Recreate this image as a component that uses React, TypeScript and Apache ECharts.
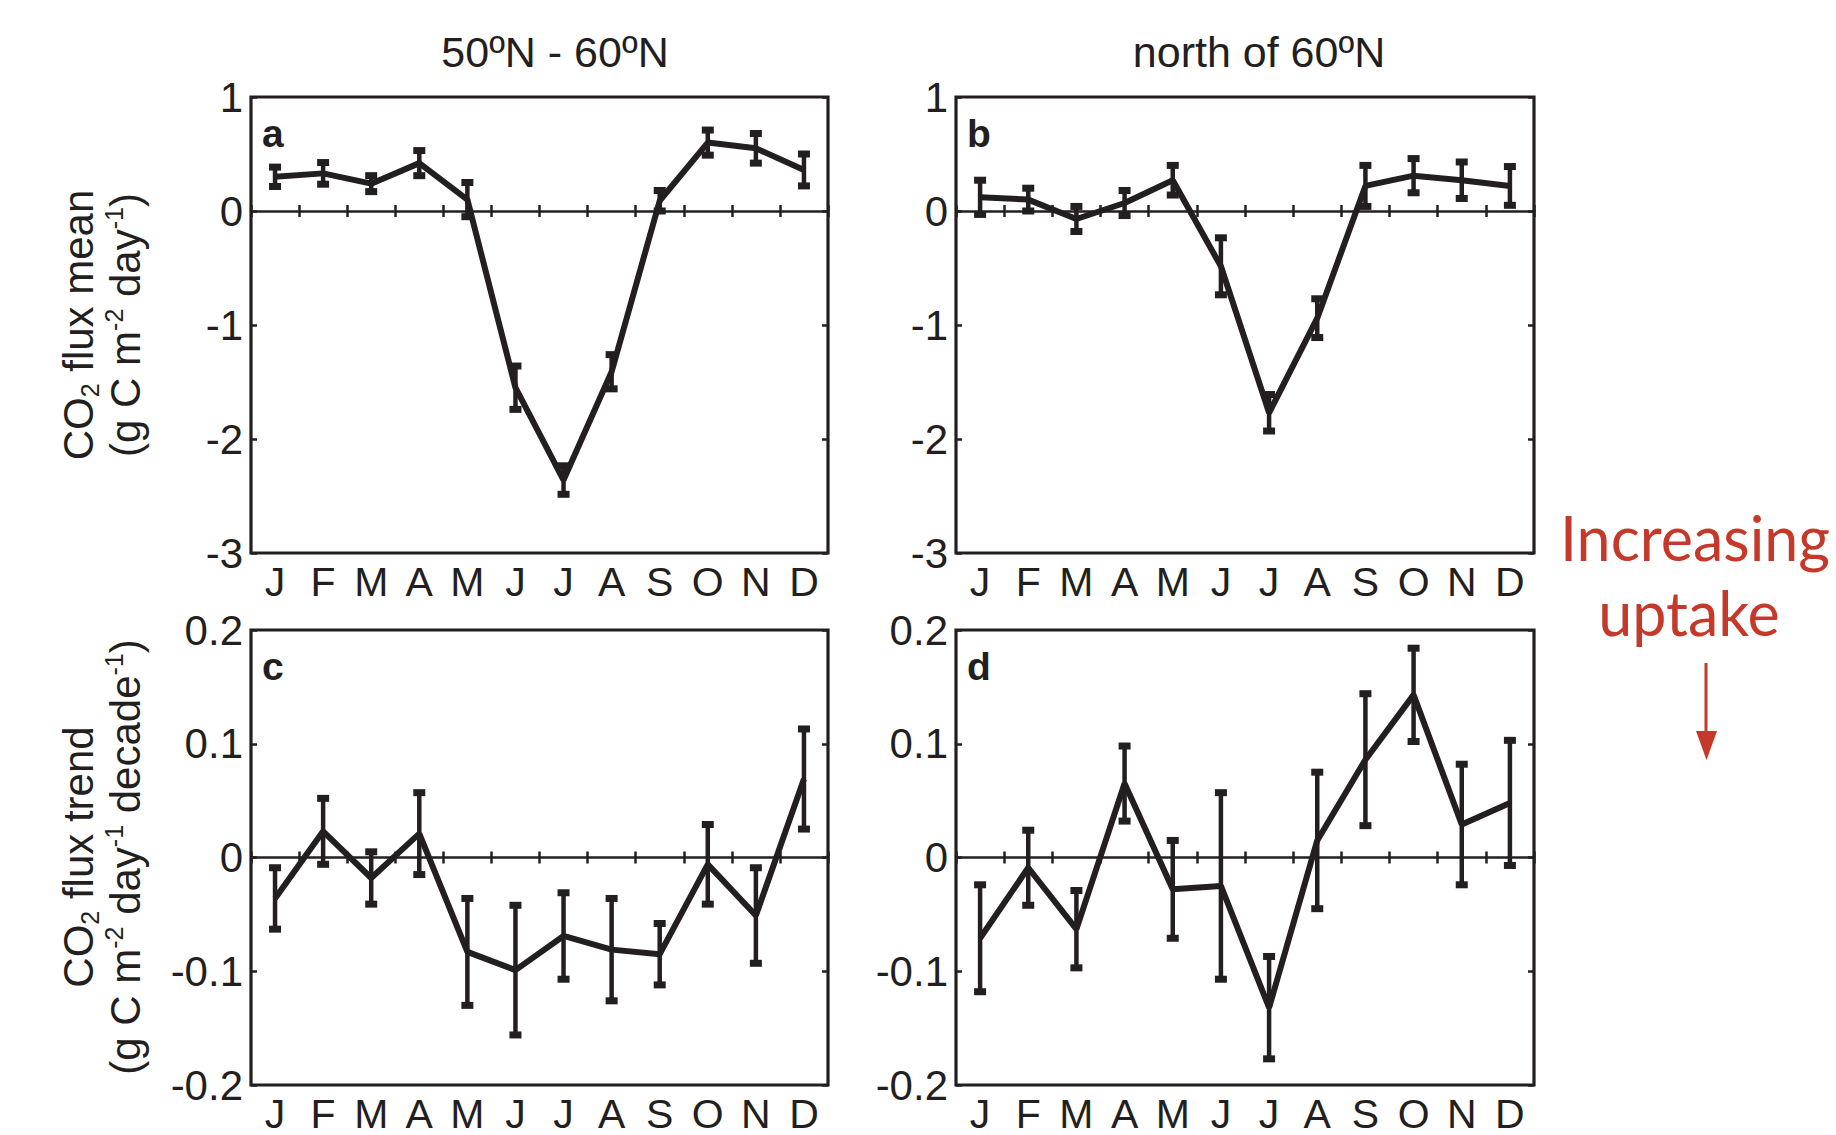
import React, { useEffect, useRef } from "react";
import * as echarts from "echarts";

const months = ["J", "F", "M", "A", "M", "J", "J", "A", "S", "O", "N", "D"];

// Panel a: 50ºN - 60ºN, CO2 flux mean
const meanA = [0.30, 0.33, 0.24, 0.42, 0.10, -1.55, -2.36, -1.41, 0.09, 0.60, 0.55, 0.36];
const errA = [0.085, 0.095, 0.07, 0.11, 0.15, 0.19, 0.125, 0.15, 0.09, 0.11, 0.13, 0.14];
// Panel b: north of 60ºN, CO2 flux mean
const meanB = [0.12, 0.10, -0.07, 0.07, 0.27, -0.485, -1.77, -0.94, 0.22, 0.31, 0.27, 0.22];
const errB = [0.15, 0.10, 0.11, 0.11, 0.13, 0.25, 0.16, 0.17, 0.18, 0.15, 0.16, 0.17];
// Panel c: 50ºN - 60ºN, CO2 flux trend
const meanC = [-0.036, 0.023, -0.018, 0.021, -0.083, -0.099, -0.069, -0.081, -0.085, -0.006, -0.051, 0.069];
const errC = [0.027, 0.029, 0.023, 0.036, 0.047, 0.057, 0.038, 0.045, 0.027, 0.035, 0.042, 0.044];
// Panel d: north of 60ºN, CO2 flux trend
const meanD = [-0.071, -0.009, -0.063, 0.065, -0.028, -0.025, -0.132, 0.015, 0.086, 0.143, 0.029, 0.048];
const errD = [0.047, 0.033, 0.034, 0.033, 0.043, 0.082, 0.045, 0.060, 0.058, 0.041, 0.053, 0.055];

const colTitles = ["50ºN - 60ºN", "north of 60ºN"];
const panelLetters = ["a", "b", "c", "d"];
const topRange = { min: -3, max: 1, interval: 1 };
const bottomRange = { min: -0.2, max: 0.2, interval: 0.1 };

const INK = "#231f20";
const RED = "#c4392a";
const FONT = "'Liberation Sans', Arial, Helvetica, sans-serif";

const grids = [
  { left: 251, top: 97, width: 577, height: 456 },
  { left: 956, top: 97, width: 578, height: 456 },
  { left: 251, top: 630, width: 577, height: 455 },
  { left: 956, top: 630, width: 578, height: 455 },
];

function buildOption() {
  const panels = [
    { mean: meanA, err: errA, range: topRange },
    { mean: meanB, err: errB, range: topRange },
    { mean: meanC, err: errC, range: bottomRange },
    { mean: meanD, err: errD, range: bottomRange },
  ];

  const grid: any[] = [];
  const xAxis: any[] = [];
  const yAxis: any[] = [];
  const series: any[] = [];
  const tick = { show: true, inside: true, length: 6, lineStyle: { color: INK, width: 2.5 } };

  panels.forEach((p, i) => {
    grid.push({
      ...grids[i],
      show: true,
      borderColor: INK,
      borderWidth: 3.2,
      backgroundColor: "transparent",
      containLabel: false,
    });
    xAxis.push({
      type: "category",
      gridIndex: i,
      data: months,
      position: "bottom",
      boundaryGap: true,
      axisLine: { show: false },
      axisTick: tick,
      axisLabel: { show: true, color: INK, fontSize: 41, fontFamily: FONT, margin: 8, interval: 0 },
      splitLine: { show: false },
    });
    xAxis.push({
      type: "category",
      gridIndex: i,
      data: months,
      position: "top",
      boundaryGap: true,
      axisLine: { show: false },
      axisTick: tick,
      axisLabel: { show: false },
      splitLine: { show: false },
    });
    yAxis.push({
      type: "value",
      gridIndex: i,
      position: "left",
      min: p.range.min,
      max: p.range.max,
      interval: p.range.interval,
      axisLine: { show: false },
      axisTick: tick,
      axisLabel: { show: true, color: INK, fontSize: 42, fontFamily: FONT, margin: 8 },
      splitLine: { show: false },
    });
    yAxis.push({
      type: "value",
      gridIndex: i,
      position: "right",
      min: p.range.min,
      max: p.range.max,
      interval: p.range.interval,
      axisLine: { show: false },
      axisTick: tick,
      axisLabel: { show: false },
      splitLine: { show: false },
    });

    series.push({
      type: "line",
      xAxisIndex: 2 * i,
      yAxisIndex: 2 * i,
      data: p.mean,
      symbol: "none",
      lineStyle: { color: INK, width: 6 },
      z: 3,
      markLine: {
        silent: true,
        symbol: ["none", "none"],
        label: { show: false },
        lineStyle: { color: INK, width: 2.5, type: "solid" },
        data: [{ yAxis: 0 }],
      },
    });
    series.push({
      type: "custom",
      xAxisIndex: 2 * i,
      yAxisIndex: 2 * i,
      data: p.mean.map((m, k) => [k, m, p.err[k]]),
      encode: { x: 0, y: 1 },
      z: 4,
      renderItem: (params: any, api: any) => {
        const x = api.value(0);
        const m = api.value(1);
        const e = api.value(2);
        const top = api.coord([x, m + e]);
        const bot = api.coord([x, m - e]);
        const cw = 12;
        const ch = 7;
        return {
          type: "group",
          children: [
            {
              type: "line",
              shape: { x1: top[0], y1: top[1], x2: bot[0], y2: bot[1] },
              style: { stroke: INK, lineWidth: 4.5 },
            },
            {
              type: "rect",
              shape: { x: top[0] - cw / 2, y: top[1] - ch / 2, width: cw, height: ch },
              style: { fill: INK },
            },
            {
              type: "rect",
              shape: { x: bot[0] - cw / 2, y: bot[1] - ch / 2, width: cw, height: ch },
              style: { fill: INK },
            },
          ],
        };
      },
    });
  });

  const rich = {
    n: { fontSize: 42, fontFamily: FONT, color: INK, lineHeight: 48 },
    sup: { fontSize: 25, fontFamily: FONT, color: INK, lineHeight: 25, verticalAlign: "top" },
    sub: { fontSize: 25, fontFamily: FONT, color: INK, lineHeight: 25, verticalAlign: "bottom" },
  };

  const yName = (x: number, y: number, text: string) => ({
    type: "text",
    x,
    y,
    rotation: Math.PI / 2,
    style: { text, rich, align: "center", verticalAlign: "middle", fill: INK },
  });

  const graphic: any[] = [
    {
      type: "text",
      x: 555,
      y: 52,
      style: { text: colTitles[0], font: `43px ${FONT}`, fill: INK, align: "center", verticalAlign: "middle" },
    },
    {
      type: "text",
      x: 1259,
      y: 52,
      style: { text: colTitles[1], font: `43px ${FONT}`, fill: INK, align: "center", verticalAlign: "middle" },
    },
    yName(78, 325, "{n|CO}{sub|2}{n| flux mean}"),
    yName(125, 325, "{n|(g C m}{sup|-2}{n| day}{sup|-1}{n|)}"),
    yName(78, 857, "{n|CO}{sub|2}{n| flux trend}"),
    yName(125, 857, "{n|(g C m}{sup|-2}{n| day}{sup|-1}{n| decade}{sup|-1}{n|)}"),
    {
      type: "text",
      x: 1695,
      y: 537,
      style: { text: "Increasing", font: `61px Lato, 'Open Sans', sans-serif`, fill: RED, align: "center", verticalAlign: "middle" },
    },
    {
      type: "text",
      x: 1689,
      y: 612,
      style: { text: "uptake", font: `61px Lato, 'Open Sans', sans-serif`, fill: RED, align: "center", verticalAlign: "middle" },
    },
    {
      type: "line",
      shape: { x1: 1706, y1: 663, x2: 1706, y2: 740 },
      style: { stroke: RED, lineWidth: 3 },
    },
    {
      type: "polygon",
      shape: { points: [[1696, 731], [1717, 731], [1706.5, 760]] },
      style: { fill: RED },
    },
  ];

  grids.forEach((g, i) => {
    graphic.push({
      type: "text",
      x: g.left + 11,
      y: g.top + 36,
      style: { text: panelLetters[i], font: `bold 39px ${FONT}`, fill: INK, align: "left", verticalAlign: "middle" },
      z: 10,
    });
  });

  return {
    animation: false,
    backgroundColor: "#ffffff",
    grid,
    xAxis,
    yAxis,
    series,
    graphic,
  };
}

export default function App() {
  const ref = useRef<HTMLDivElement>(null);
  useEffect(() => {
    if (!ref.current) return;
    const chart = echarts.init(ref.current, undefined, { renderer: "svg" });
    chart.setOption(buildOption() as any);
    return () => chart.dispose();
  }, []);
  return (
    <div
      ref={ref}
      style={{ position: "fixed", left: 0, top: 0, width: 1836, height: 1135, background: "#fff" }}
    />
  );
}
